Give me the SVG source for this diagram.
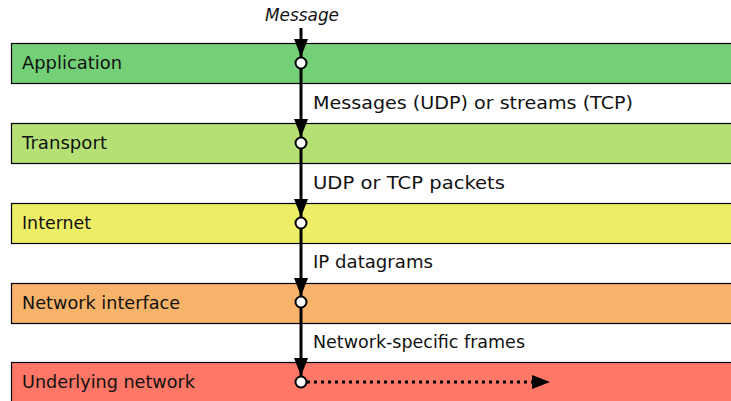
<svg xmlns="http://www.w3.org/2000/svg" width="731" height="401" viewBox="0 0 731 401">
<defs>
<marker id="ah2" viewBox="0 0 18 14" refX="18" refY="7" markerWidth="18" markerHeight="14" markerUnits="userSpaceOnUse" orient="auto">
<path d="M0,0 L18,7 L0,14 z" fill="#000"/>
</marker>
</defs>
<style>
.band{stroke:#000;stroke-width:1.2}
.lbl{font-family:"DejaVu Sans",sans-serif;font-size:17px;fill:#111}
.edge{font-family:"DejaVu Sans",sans-serif;font-size:17.5px;fill:#111}
.ln{stroke:#000;stroke-width:3;fill:none}
.pt{fill:#fff;stroke:#000;stroke-width:2}
</style>
<rect width="731" height="401" fill="#fff"/>
<g id="application"><rect class="band" x="11.5" y="43.5" width="730" height="40" fill="#74D077"/><text class="lbl" x="22" y="69" textLength="100" lengthAdjust="spacingAndGlyphs">Application</text></g>
<g id="transport"><rect class="band" x="11.5" y="123.5" width="730" height="40" fill="#B5E174"/><text class="lbl" x="22" y="149" textLength="85" lengthAdjust="spacingAndGlyphs">Transport</text></g>
<g id="internet"><rect class="band" x="11.5" y="203.5" width="730" height="40" fill="#EEEE66"/><text class="lbl" x="22" y="229" textLength="69" lengthAdjust="spacingAndGlyphs">Internet</text></g>
<g id="network-interface"><rect class="band" x="11.5" y="283.5" width="730" height="40" fill="#F8B36A"/><text class="lbl" x="22" y="309" textLength="158" lengthAdjust="spacingAndGlyphs">Network interface</text></g>
<g id="underlying-network"><rect class="band" x="11.5" y="362.5" width="730" height="50" fill="#FF7766"/><text class="lbl" x="22" y="388" textLength="173" lengthAdjust="spacingAndGlyphs">Underlying network</text></g>
<g id="connectors">
<text class="edge" x="265" y="21" font-style="italic" textLength="74" lengthAdjust="spacingAndGlyphs">Message</text>
<line class="ln" x1="301" y1="28" x2="301" y2="57" marker-end="url(#ah2)"/>
<line class="ln" x1="301" y1="68" x2="301" y2="137" marker-end="url(#ah2)"/>
<line class="ln" x1="301" y1="148" x2="301" y2="217" marker-end="url(#ah2)"/>
<line class="ln" x1="301" y1="228" x2="301" y2="296" marker-end="url(#ah2)"/>
<line class="ln" x1="301" y1="307" x2="301" y2="376" marker-end="url(#ah2)"/>
<line x1="307" y1="382" x2="532" y2="382" stroke="#000" stroke-width="3" stroke-dasharray="3,4"/>
<path d="M532,375 L550,382 L532,389 z" fill="#000"/>
<text class="edge" x="313" y="109" textLength="320" lengthAdjust="spacingAndGlyphs">Messages (UDP) or streams (TCP)</text>
<text class="edge" x="313" y="189" textLength="192" lengthAdjust="spacingAndGlyphs">UDP or TCP packets</text>
<text class="edge" x="313" y="268" textLength="120" lengthAdjust="spacingAndGlyphs">IP datagrams</text>
<text class="edge" x="313" y="348" textLength="212" lengthAdjust="spacingAndGlyphs">Network-specific frames</text>
<circle class="pt" cx="301" cy="63" r="5.5"/>
<circle class="pt" cx="301" cy="143" r="5.5"/>
<circle class="pt" cx="301" cy="223" r="5.5"/>
<circle class="pt" cx="301" cy="302" r="5.5"/>
<circle class="pt" cx="301" cy="382" r="5.5"/>
</g>
</svg>
